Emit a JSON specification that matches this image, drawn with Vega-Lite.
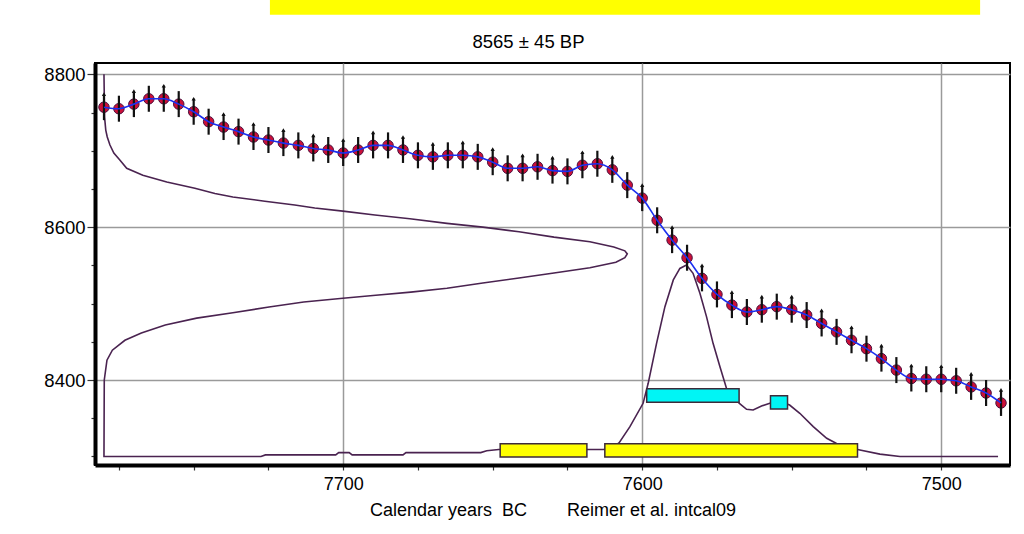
{
  "$schema": "https://vega.github.io/schema/vega-lite/v6.json",
  "width": 915,
  "height": 402,
  "autosize": {"type": "none"},
  "padding": {"left": 95, "top": 63, "right": 14, "bottom": 69},
  "background": "white",
  "config": {
    "view": {"stroke": "black", "strokeWidth": 2},
    "font": "Liberation Sans"
  },
  "title": {"text": "8565 ± 45 BP", "fontSize": 18.5, "fontWeight": "normal", "font": "Liberation Sans", "color": "black", "offset": -52, "dx": -24},
  "datasets": {
    "curve": [
      {"year": 7780, "bp": 8757, "err": 17}, {"year": 7775, "bp": 8755, "err": 17}, {"year": 7770, "bp": 8761, "err": 17},
      {"year": 7765, "bp": 8768, "err": 17}, {"year": 7760, "bp": 8768, "err": 17}, {"year": 7755, "bp": 8761, "err": 17},
      {"year": 7750, "bp": 8751, "err": 17}, {"year": 7745, "bp": 8738, "err": 17}, {"year": 7740, "bp": 8731, "err": 17},
      {"year": 7735, "bp": 8725, "err": 17}, {"year": 7730, "bp": 8718, "err": 17}, {"year": 7725, "bp": 8714, "err": 17},
      {"year": 7720, "bp": 8710, "err": 17}, {"year": 7715, "bp": 8707, "err": 17}, {"year": 7710, "bp": 8703, "err": 17},
      {"year": 7705, "bp": 8701, "err": 17}, {"year": 7700, "bp": 8697, "err": 17}, {"year": 7695, "bp": 8701, "err": 17},
      {"year": 7690, "bp": 8707, "err": 17}, {"year": 7685, "bp": 8707, "err": 17}, {"year": 7680, "bp": 8701, "err": 17},
      {"year": 7675, "bp": 8694, "err": 17}, {"year": 7670, "bp": 8692, "err": 17}, {"year": 7665, "bp": 8694, "err": 17},
      {"year": 7660, "bp": 8694, "err": 17}, {"year": 7655, "bp": 8692, "err": 17}, {"year": 7650, "bp": 8685, "err": 17},
      {"year": 7645, "bp": 8677, "err": 17}, {"year": 7640, "bp": 8677, "err": 17}, {"year": 7635, "bp": 8679, "err": 17},
      {"year": 7630, "bp": 8674, "err": 17}, {"year": 7625, "bp": 8673, "err": 17}, {"year": 7620, "bp": 8681, "err": 17},
      {"year": 7615, "bp": 8683, "err": 17}, {"year": 7610, "bp": 8675, "err": 17}, {"year": 7605, "bp": 8655, "err": 17},
      {"year": 7600, "bp": 8638, "err": 17}, {"year": 7595, "bp": 8609, "err": 17}, {"year": 7590, "bp": 8583, "err": 17},
      {"year": 7585, "bp": 8560, "err": 17}, {"year": 7580, "bp": 8533, "err": 17}, {"year": 7575, "bp": 8512, "err": 17},
      {"year": 7570, "bp": 8498, "err": 17}, {"year": 7565, "bp": 8489, "err": 17}, {"year": 7560, "bp": 8492, "err": 17},
      {"year": 7555, "bp": 8496, "err": 17}, {"year": 7550, "bp": 8492, "err": 17}, {"year": 7545, "bp": 8485, "err": 17},
      {"year": 7540, "bp": 8474, "err": 17}, {"year": 7535, "bp": 8463, "err": 17}, {"year": 7530, "bp": 8452, "err": 17},
      {"year": 7525, "bp": 8441, "err": 17}, {"year": 7520, "bp": 8428, "err": 17}, {"year": 7515, "bp": 8413, "err": 17},
      {"year": 7510, "bp": 8402, "err": 17}, {"year": 7505, "bp": 8401, "err": 17}, {"year": 7500, "bp": 8401, "err": 17},
      {"year": 7495, "bp": 8399, "err": 17}, {"year": 7490, "bp": 8391, "err": 17}, {"year": 7485, "bp": 8383, "err": 17},
      {"year": 7480, "bp": 8370, "err": 17}
    ],
    "pdf": [
      {"o": 1, "year": 7780, "bp": 8800}, {"o": 2, "year": 7779.8, "bp": 8744}, {"o": 3, "year": 7779.4, "bp": 8727},
      {"o": 4, "year": 7778.9, "bp": 8718}, {"o": 5, "year": 7778, "bp": 8707.5}, {"o": 6, "year": 7776.7, "bp": 8697},
      {"o": 7, "year": 7774.7, "bp": 8688}, {"o": 8, "year": 7772.4, "bp": 8677}, {"o": 9, "year": 7767, "bp": 8668},
      {"o": 10, "year": 7759, "bp": 8659}, {"o": 11, "year": 7749.6, "bp": 8651}, {"o": 12, "year": 7742.9, "bp": 8644},
      {"o": 13, "year": 7736.9, "bp": 8639.5}, {"o": 14, "year": 7726.2, "bp": 8634}, {"o": 15, "year": 7716.2, "bp": 8629},
      {"o": 16, "year": 7709.5, "bp": 8625}, {"o": 17, "year": 7700.1, "bp": 8621}, {"o": 18, "year": 7689.4, "bp": 8616},
      {"o": 19, "year": 7677.7, "bp": 8611}, {"o": 20, "year": 7665.3, "bp": 8605}, {"o": 21, "year": 7653.3, "bp": 8600},
      {"o": 22, "year": 7641.2, "bp": 8594}, {"o": 23, "year": 7629.5, "bp": 8587}, {"o": 24, "year": 7617.5, "bp": 8581},
      {"o": 25, "year": 7609.5, "bp": 8574}, {"o": 26, "year": 7605.8, "bp": 8569}, {"o": 27, "year": 7605, "bp": 8565},
      {"o": 28, "year": 7605.8, "bp": 8560}, {"o": 29, "year": 7608.8, "bp": 8554}, {"o": 30, "year": 7617.5, "bp": 8547},
      {"o": 31, "year": 7629.5, "bp": 8540}, {"o": 32, "year": 7641.2, "bp": 8533.5}, {"o": 33, "year": 7653.3, "bp": 8527},
      {"o": 34, "year": 7665.3, "bp": 8520}, {"o": 35, "year": 7677.4, "bp": 8515}, {"o": 36, "year": 7689.1, "bp": 8511},
      {"o": 37, "year": 7700.1, "bp": 8507}, {"o": 38, "year": 7713.2, "bp": 8502}, {"o": 39, "year": 7724.8, "bp": 8495.5},
      {"o": 40, "year": 7736.9, "bp": 8488}, {"o": 41, "year": 7749, "bp": 8481}, {"o": 42, "year": 7759.5, "bp": 8472},
      {"o": 43, "year": 7767.5, "bp": 8461.5}, {"o": 44, "year": 7773, "bp": 8452}, {"o": 45, "year": 7777.2, "bp": 8439},
      {"o": 46, "year": 7779, "bp": 8426}, {"o": 47, "year": 7779.9, "bp": 8400}, {"o": 48, "year": 7780, "bp": 8300},
      {"o": 49, "year": 7727.5, "bp": 8300}, {"o": 50, "year": 7726, "bp": 8302}, {"o": 51, "year": 7702.5, "bp": 8302},
      {"o": 52, "year": 7701.5, "bp": 8305}, {"o": 53, "year": 7698, "bp": 8305}, {"o": 54, "year": 7697, "bp": 8302},
      {"o": 55, "year": 7680, "bp": 8302}, {"o": 56, "year": 7679, "bp": 8305}, {"o": 57, "year": 7654, "bp": 8305},
      {"o": 58, "year": 7652, "bp": 8307.5}, {"o": 59, "year": 7648, "bp": 8309}, {"o": 60, "year": 7630, "bp": 8309},
      {"o": 61, "year": 7613, "bp": 8309}, {"o": 62, "year": 7610, "bp": 8311}, {"o": 63, "year": 7607.7, "bp": 8318},
      {"o": 64, "year": 7604.1, "bp": 8339}, {"o": 65, "year": 7599.7, "bp": 8369.5}, {"o": 66, "year": 7598, "bp": 8395.7},
      {"o": 67, "year": 7595.2, "bp": 8448}, {"o": 68, "year": 7592.4, "bp": 8496}, {"o": 69, "year": 7589.6, "bp": 8531},
      {"o": 70, "year": 7587.4, "bp": 8546}, {"o": 71, "year": 7585.2, "bp": 8550.5}, {"o": 72, "year": 7583, "bp": 8539.6},
      {"o": 73, "year": 7580.7, "bp": 8513.5}, {"o": 74, "year": 7578.5, "bp": 8483}, {"o": 75, "year": 7576.3, "bp": 8448},
      {"o": 76, "year": 7574, "bp": 8417.4}, {"o": 77, "year": 7571.8, "bp": 8389}, {"o": 78, "year": 7569.7, "bp": 8378},
      {"o": 79, "year": 7567.5, "bp": 8369.5}, {"o": 80, "year": 7565.1, "bp": 8361.7}, {"o": 81, "year": 7562.9, "bp": 8360.8},
      {"o": 82, "year": 7560.1, "bp": 8366}, {"o": 83, "year": 7557.3, "bp": 8369.5}, {"o": 84, "year": 7554.3, "bp": 8372.5},
      {"o": 85, "year": 7550.7, "bp": 8367.3}, {"o": 86, "year": 7547.3, "bp": 8356.5}, {"o": 87, "year": 7542.8, "bp": 8339},
      {"o": 88, "year": 7538.3, "bp": 8323.7}, {"o": 89, "year": 7535, "bp": 8317}, {"o": 90, "year": 7531.2, "bp": 8312},
      {"o": 91, "year": 7527.2, "bp": 8308.5}, {"o": 92, "year": 7520.5, "bp": 8303}, {"o": 93, "year": 7513.8, "bp": 8300},
      {"o": 94, "year": 7481, "bp": 8300}
    ],
    "ranges": [
      {"kind": "1 sigma", "x1": 7598.5, "x2": 7567.6, "y1": 8371, "y2": 8388.6},
      {"kind": "1 sigma", "x1": 7557.1, "x2": 7551.4, "y1": 8362, "y2": 8379.5},
      {"kind": "2 sigma", "x1": 7647.5, "x2": 7618.5, "y1": 8299.3, "y2": 8316.7},
      {"kind": "2 sigma", "x1": 7612.5, "x2": 7528, "y1": 8299.3, "y2": 8316.7}
    ],
    "highlight": [
      {"x1": 7724.5, "x2": 7487, "y1": 8878, "y2": 8898}
    ]
  },
  "layer": [
    {
      "data": {"name": "pdf"},
      "mark": {"type": "line", "color": "#4a2350", "strokeWidth": 1.6, "interpolate": "linear"},
      "encoding": {
        "x": {
          "field": "year", "type": "quantitative",
          "scale": {"domain": [7783, 7477], "nice": false, "zero": false},
          "axis": {
            "title": "Calendar years\u00a0\u00a0BC\u00a0\u00a0\u00a0\u00a0\u00a0\u00a0\u00a0\u00a0Reimer et al. intcal09",
            "titleFontSize": 18, "titleFontWeight": "normal", "titleFont": "Liberation Sans", "titleColor": "black", "titlePadding": 8,
            "values": [7775, 7750, 7725, 7700, 7675, 7650, 7625, 7600, 7575, 7550, 7525, 7500],
            "format": "d",
            "labelExpr": "datum.value % 100 === 0 ? datum.label : ''",
            "labelFontSize": 18, "labelFont": "Liberation Sans", "labelColor": "black", "labelPadding": 5,
            "tickSize": 5, "tickColor": "#333333", "tickWidth": 1.2,
            "domainColor": "black", "domainWidth": 4,
            "grid": true, "gridColor": "#9a9a9a", "gridWidth": 1.5,
            "gridOpacity": {"condition": {"test": "datum.value % 100 === 0", "value": 1}, "value": 0}
          }
        },
        "y": {
          "field": "bp", "type": "quantitative",
          "scale": {"domain": [8288.8, 8814.8], "nice": false, "zero": false},
          "axis": {
            "title": null,
            "values": [8300, 8350, 8400, 8450, 8500, 8550, 8600, 8650, 8700, 8750, 8800],
            "format": "d",
            "labelExpr": "datum.value % 200 === 0 ? datum.label : ''",
            "labelFontSize": 18.5, "labelFont": "Liberation Sans", "labelColor": "black", "labelPadding": 2,
            "tickSize": {"condition": {"test": "datum.value % 200 === 0", "value": 8}, "value": 4},
            "tickColor": "#333333", "tickWidth": 1.2,
            "domainColor": "black", "domainWidth": 4,
            "grid": true, "gridColor": "#9a9a9a", "gridWidth": 1.5,
            "gridOpacity": {"condition": {"test": "datum.value % 200 === 0", "value": 1}, "value": 0}
          }
        },
        "order": {"field": "o", "type": "quantitative"}
      }
    },
    {
      "data": {"name": "ranges"},
      "mark": {"type": "rect", "stroke": "#3d2a3a", "strokeWidth": 1.5},
      "encoding": {
        "x": {"field": "x1", "type": "quantitative"},
        "x2": {"field": "x2"},
        "y": {"field": "y1", "type": "quantitative"},
        "y2": {"field": "y2"},
        "fill": {"field": "kind", "type": "nominal", "scale": {"domain": ["1 sigma", "2 sigma"], "range": ["#00f5f5", "#ffff00"]}, "legend": null}
      }
    },
    {
      "data": {"name": "curve"},
      "mark": {"type": "point", "filled": true, "size": 110, "fill": "#cc1038", "stroke": "#4a1040", "strokeWidth": 1, "opacity": 1},
      "encoding": {
        "x": {"field": "year", "type": "quantitative"},
        "y": {"field": "bp", "type": "quantitative"}
      }
    },
    {
      "data": {"name": "curve"},
      "mark": {"type": "errorbar", "ticks": false, "rule": {"color": "#111111", "strokeWidth": 2.2}},
      "encoding": {
        "x": {"field": "year", "type": "quantitative"},
        "y": {"field": "bp", "type": "quantitative"},
        "yError": {"field": "err"}
      }
    },
    {
      "data": {"name": "curve"},
      "transform": [{"filter": "datum.year % 10 === 0"}],
      "mark": {"type": "point", "shape": "triangle-up", "filled": true, "size": 18, "color": "#111111", "opacity": 1},
      "encoding": {
        "x": {"field": "year", "type": "quantitative"},
        "y": {"field": "bp", "type": "quantitative"},
        "yOffset": {"value": -13}
      }
    },
    {
      "data": {"name": "curve"},
      "mark": {"type": "line", "color": "#1a2ff0", "strokeWidth": 1.6, "interpolate": "monotone"},
      "encoding": {
        "x": {"field": "year", "type": "quantitative"},
        "y": {"field": "bp", "type": "quantitative"}
      }
    },
    {
      "data": {"name": "highlight"},
      "mark": {"type": "rect", "color": "#ffff00", "clip": false},
      "encoding": {
        "x": {"field": "x1", "type": "quantitative"},
        "x2": {"field": "x2"},
        "y": {"field": "y1", "type": "quantitative"},
        "y2": {"field": "y2"}
      }
    }
  ]
}
